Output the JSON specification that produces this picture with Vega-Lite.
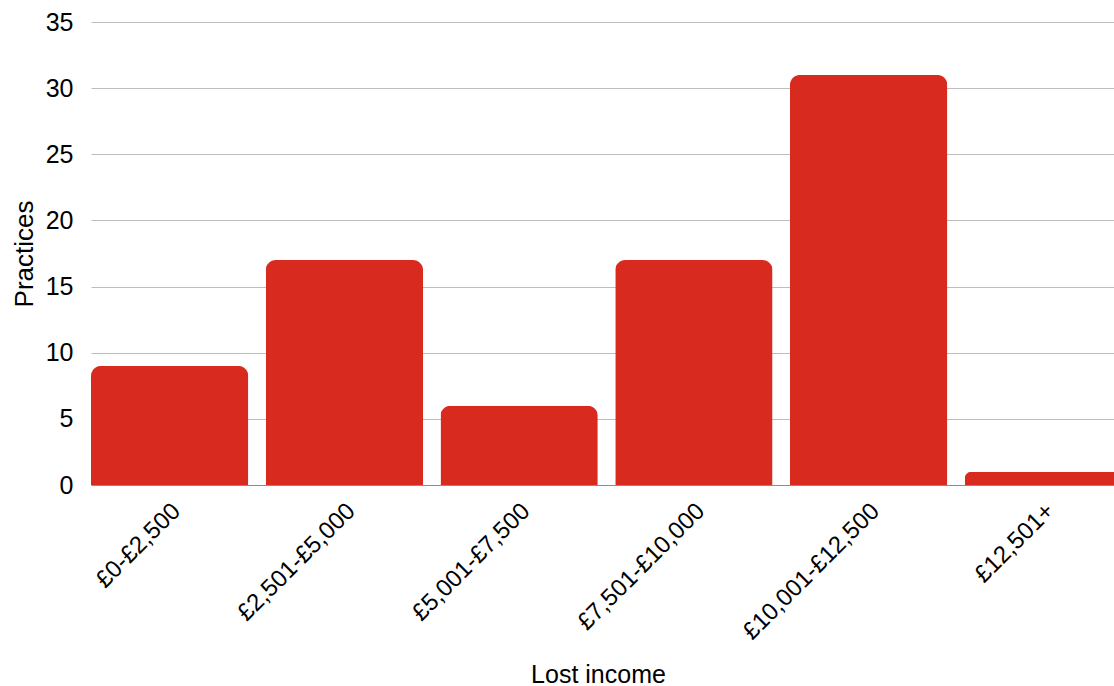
{
  "$schema": "https://vega.github.io/schema/vega-lite/v6.json",
  "autosize": {"type": "none"},
  "padding": {"left": 91, "top": 22, "right": 0, "bottom": 201},
  "width": 1023,
  "height": 463,
  "background": "white",
  "config": {
    "view": {"stroke": null},
    "font": "Liberation Sans"
  },
  "data": {
    "values": [
      {"band": "£0-£2,500", "practices": 9},
      {"band": "£2,501-£5,000", "practices": 17},
      {"band": "£5,001-£7,500", "practices": 6},
      {"band": "£7,501-£10,000", "practices": 17},
      {"band": "£10,001-£12,500", "practices": 31},
      {"band": "£12,501+", "practices": 1}
    ]
  },
  "mark": {
    "type": "bar",
    "color": "#d92a1f",
    "cornerRadiusTopLeft": 10,
    "cornerRadiusTopRight": 10
  },
  "encoding": {
    "x": {
      "field": "band",
      "type": "nominal",
      "sort": null,
      "scale": {"range": [0, 1031], "paddingInner": 0.1, "paddingOuter": 0},
      "axis": {
        "title": "Lost income",
        "titleFont": "Liberation Sans",
        "titleFontSize": 25,
        "titleFontWeight": "normal",
        "titleColor": "#000000",
        "titleX": 507,
        "titleY": 197,
        "titleAlign": "center",
        "titleBaseline": "alphabetic",
        "labelAngle": -45,
        "labelAlign": "right",
        "labelBaseline": "middle",
        "labelFontSize": 24,
        "labelColor": "#000000",
        "labelLimit": 400,
        "labelOffset": 7,
        "labelPadding": 22,
        "ticks": false,
        "tickSize": 0,
        "domain": true,
        "domainColor": "#8c8c8c",
        "domainWidth": 1,
        "grid": false
      }
    },
    "y": {
      "field": "practices",
      "type": "quantitative",
      "scale": {"domain": [0, 35], "nice": false},
      "axis": {
        "title": "Practices",
        "titleFontSize": 26,
        "titleFontWeight": "normal",
        "titleColor": "#000000",
        "titleAngle": -90,
        "titleX": -59,
        "titleBaseline": "alphabetic",
        "values": [0, 5, 10, 15, 20, 25, 30, 35],
        "labelFontSize": 25,
        "labelColor": "#000000",
        "labelPadding": 18,
        "ticks": false,
        "tickSize": 0,
        "domain": false,
        "grid": true,
        "gridColor": "#bdbdbd",
        "gridWidth": 1
      }
    }
  }
}
